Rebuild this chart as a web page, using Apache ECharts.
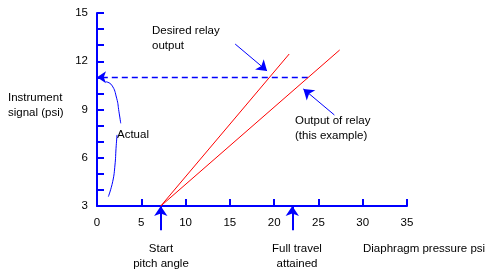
<!DOCTYPE html>
<html><head><meta charset="utf-8">
<script src="https://cdn.jsdelivr.net/npm/echarts@6/dist/echarts.min.js"></script>
<style>html,body{margin:0;padding:0;background:#fff}#c{width:497px;height:280px}</style>
</head><body><div id="c"></div>
<script>
// Axis ranges and ticks
const xTicks = [0, 5, 10, 15, 20, 25, 30, 35];
const yTickLabels = [3, 6, 9, 12, 15];
// Relay lines: [diaphragm pressure, instrument signal]
const desiredRelay = [[7.2, 3], [21.7, 12.45]];
const outputRelay = [[7.2, 3], [27.4, 12.7]];
// Dashed instrument-signal line (from relay output back to axis)
const signalLine = [[23.8, 11], [0, 11]];
// Arrows below the axis: start pitch angle and full travel attained
const startPitch = [[7.2, 1.5], [7.2, 3]];
const fullTravel = [[22.05, 1.5], [22.05, 3]];
// Pointer arrows for annotations
const desiredPointer = [[15.6, 13.07], [19.2, 11.4]];
const outputPointer = [[26.8, 8.66], [23.3, 10.28]];
// "Actual" brace (upper and lower parts)
const braceUpper = [[0.98, 10.73], [1.66, 10.52], [2.22, 9.7], [2.48, 8.86], [2.68, 8.14]];
const braceLower = [[2.26, 7.42], [2.15, 6.59], [2.03, 5.55], [1.77, 4.51], [1.28, 3.58]];

const BLUE = '#0000ff', RED = '#ff0000';
const FONT = 'Liberation Sans';
const FS = 11.5;
const txt = (x, y, text, align) => ({
  type: 'text', x: x, y: y,
  style: { text: text, fill: '#000', font: FS + 'px "' + FONT + '"', textAlign: align || 'left', textVerticalAlign: 'middle' }
});

const chart = echarts.init(document.getElementById('c'), null, { renderer: 'canvas' });
chart.setOption({
  animation: false,
  backgroundColor: '#ffffff',
  grid: { left: 97, top: 13, width: 310, height: 193 },
  xAxis: {
    type: 'value', min: xTicks[0], max: xTicks[xTicks.length - 1], interval: 5,
    axisLine: { lineStyle: { color: BLUE, width: 2 } },
    axisTick: { show: true, inside: true, length: 7, lineStyle: { color: BLUE, width: 2 } },
    axisLabel: { color: '#000', fontFamily: FONT, fontSize: FS, margin: 11 },
    splitLine: { show: false }
  },
  yAxis: {
    type: 'value', min: 3, max: 15, interval: 1,
    axisLine: { show: true, lineStyle: { color: BLUE, width: 2 } },
    axisTick: { show: true, inside: true, length: 7, lineStyle: { color: BLUE, width: 2 } },
    axisLabel: {
      color: '#000', fontFamily: FONT, fontSize: FS, margin: 9,
      formatter: v => (yTickLabels.indexOf(v) >= 0 ? String(v) : '')
    },
    splitLine: { show: false }
  },
  series: [
    { type: 'line', data: desiredRelay, showSymbol: false, lineStyle: { color: RED, width: 1 }, clip: false },
    { type: 'line', data: outputRelay, showSymbol: false, lineStyle: { color: RED, width: 1 }, clip: false },
    { type: 'line', data: braceUpper, smooth: true, showSymbol: false, lineStyle: { color: BLUE, width: 1 }, clip: false },
    { type: 'line', data: braceLower, smooth: true, showSymbol: false, lineStyle: { color: BLUE, width: 1 }, clip: false },
    {
      type: 'lines', coordinateSystem: 'cartesian2d', clip: false,
      symbol: ['none', 'arrow'], symbolSize: 9,
      itemStyle: { color: BLUE },
      lineStyle: { color: BLUE, width: 1.3, opacity: 1, type: [6, 4] },
      data: [{ coords: signalLine }]
    },
    {
      type: 'lines', coordinateSystem: 'cartesian2d', clip: false,
      symbol: ['none', 'arrow'], symbolSize: 10,
      itemStyle: { color: BLUE },
      lineStyle: { color: BLUE, width: 2, opacity: 1 },
      data: [{ coords: startPitch }, { coords: fullTravel }]
    },
    {
      type: 'lines', coordinateSystem: 'cartesian2d', clip: false,
      symbol: ['none', 'arrow'], symbolSize: 10,
      itemStyle: { color: BLUE },
      lineStyle: { color: BLUE, width: 1, opacity: 1 },
      data: [{ coords: desiredPointer }, { coords: outputPointer }]
    }
  ],
  graphic: [
    txt(152, 31, 'Desired relay'),
    txt(152, 46, 'output'),
    txt(8, 98, 'Instrument'),
    txt(8, 113, 'signal (psi)'),
    txt(117, 135, 'Actual'),
    txt(295, 121, 'Output of relay'),
    txt(295, 136, '(this example)'),
    txt(161, 249, 'Start', 'center'),
    txt(161, 264, 'pitch angle', 'center'),
    txt(297, 249, 'Full travel', 'center'),
    txt(297, 264, 'attained', 'center'),
    txt(363, 249, 'Diaphragm pressure psi')
  ]
});
</script></body></html>
